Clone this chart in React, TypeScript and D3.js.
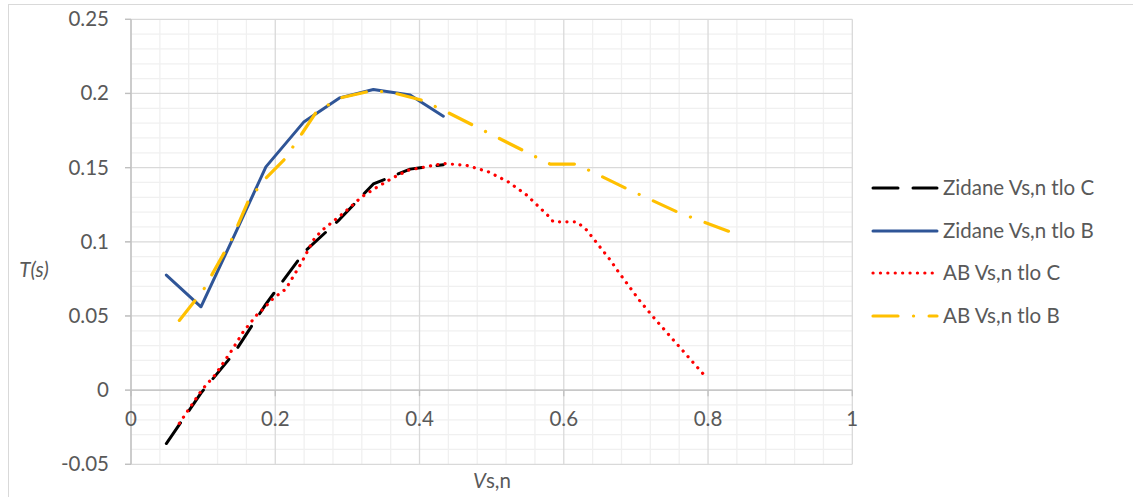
import React from 'react';
import * as d3 from 'd3';

// ---- Data ----
const zidaneC_x = [0.049, 0.097, 0.143, 0.187, 0.24, 0.289, 0.336, 0.387, 0.433];
const zidaneC_y = [-0.036, -0.002, 0.025, 0.058, 0.093, 0.115, 0.139, 0.149, 0.152];

const zidaneB_x = [0.049, 0.097, 0.143, 0.187, 0.24, 0.289, 0.336, 0.387, 0.433];
const zidaneB_y = [0.0776, 0.0562, 0.104, 0.1505, 0.181, 0.197, 0.2027, 0.1989, 0.1847];

const abC_x = [0.067, 0.098, 0.1165, 0.14, 0.1557, 0.1742, 0.183, 0.1973, 0.2145, 0.2366, 0.2527, 0.2636, 0.2967, 0.3198, 0.3383, 0.364, 0.3845, 0.433, 0.4654, 0.4954, 0.523, 0.5486, 0.5785, 0.5855, 0.618, 0.6318, 0.65, 0.664, 0.6756, 0.7057, 0.7265, 0.761, 0.7958];
const abC_y = [-0.0224, 0.0, 0.0102, 0.027, 0.0394, 0.0506, 0.0546, 0.0619, 0.0681, 0.0861, 0.1011, 0.1072, 0.1202, 0.1303, 0.136, 0.1434, 0.1483, 0.1528, 0.1515, 0.1472, 0.1404, 0.1315, 0.1175, 0.1135, 0.1135, 0.1079, 0.0966, 0.088, 0.0798, 0.06, 0.0479, 0.0288, 0.0095];

const abB_x = [0.067, 0.1, 0.14, 0.163, 0.187, 0.213, 0.237, 0.257, 0.29, 0.335, 0.364, 0.403, 0.44, 0.581, 0.617, 0.69, 0.76, 0.831];
const abB_y = [0.047, 0.0672, 0.102, 0.128, 0.143, 0.1557, 0.173, 0.1876, 0.197, 0.202, 0.2004, 0.1955, 0.187, 0.1524, 0.1524, 0.1352, 0.1195, 0.1067];

const seriesNames = ['Zidane Vs,n tlo C', 'Zidane Vs,n tlo B', 'AB Vs,n tlo C', 'AB Vs,n tlo B'];
const xTicks = [0, 0.2, 0.4, 0.6, 0.8, 1];
const yTicks = [-0.05, 0, 0.05, 0.1, 0.15, 0.2, 0.25];

const W = 1133;
const H = 497;
const FONT = 'Lato, "Open Sans", sans-serif';
const TXT = '#595959';
const FS = 20.5;

const styles = [
  { color: '#000000', dash: '25 15', width: 3 },
  { color: '#2F5597', dash: 'none', width: 3 },
  { color: '#FF0000', dash: '0.1 7.3', width: 3.2 },
  { color: '#FFC000', dash: '25 15.5 0.1 15.5', width: 3.2 },
];

export default function App() {
  const x = d3.scaleLinear().domain([0, 1]).range([131, 852.3]);
  const y = d3.scaleLinear().domain([-0.05, 0.25]).range([464.3, 19.3]);

  const series = [
    { xs: zidaneC_x, ys: zidaneC_y },
    { xs: zidaneB_x, ys: zidaneB_y },
    { xs: abC_x, ys: abC_y },
    { xs: abB_x, ys: abB_y },
  ];

  const line = d3
    .line<[number, number]>()
    .x((d) => x(d[0]))
    .y((d) => y(d[1]));

  const minorX = d3.range(0, 25).map((i) => i * 0.04).filter((v, i) => i % 5 !== 0);
  const minorY = d3.range(0, 31).map((i) => -0.05 + i * 0.01).filter((v, i) => i % 5 !== 0);

  const legendYs = [188, 231, 273, 316];

  return (
    <svg
      width={W}
      height={H}
      style={{ position: 'absolute', left: 0, top: 0, background: '#fff' }}
      fontFamily={FONT}
    >
      <rect x={8.5} y={4.5} width={1300} height={700} fill="#fff" stroke="#D9D9D9" strokeWidth={1} />
      {/* minor grid */}
      {minorX.map((v, i) => (
        <line key={'mx' + i} x1={x(v)} x2={x(v)} y1={y(0.25)} y2={y(-0.05)} stroke="#F0F0F0" strokeWidth={1.3} />
      ))}
      {minorY.map((v, i) => (
        <line key={'my' + i} x1={x(0)} x2={x(1)} y1={y(v)} y2={y(v)} stroke="#F0F0F0" strokeWidth={1.3} />
      ))}
      {/* major grid */}
      {xTicks.map((v, i) => (
        <line key={'Mx' + i} x1={x(v)} x2={x(v)} y1={y(0.25)} y2={y(-0.05)} stroke="#D9D9D9" strokeWidth={1.3} />
      ))}
      {yTicks.map((v, i) => (
        <line key={'My' + i} x1={x(0) - 6} x2={x(1)} y1={y(v)} y2={y(v)} stroke="#D9D9D9" strokeWidth={1.3} />
      ))}
      {/* axes */}
      <line x1={x(0)} x2={x(0)} y1={y(0.25)} y2={y(-0.05)} stroke="#BFBFBF" strokeWidth={1.3} />
      <line x1={x(0)} x2={x(1)} y1={y(0)} y2={y(0)} stroke="#BFBFBF" strokeWidth={1.3} />
      {xTicks.map((v, i) => (
        <line key={'xt' + i} x1={x(v)} x2={x(v)} y1={y(0)} y2={y(0) + 6} stroke="#BFBFBF" strokeWidth={1.3} />
      ))}
      {yTicks.map((v, i) => (
        <line key={'yt' + i} x1={x(0) - 6} x2={x(0)} y1={y(v)} y2={y(v)} stroke="#BFBFBF" strokeWidth={1.3} />
      ))}
      {/* tick labels */}
      {xTicks.map((v, i) => (
        <text key={'xl' + i} x={x(v)} y={y(0) + 36} textAnchor="middle" fontSize={FS} fill={TXT}>
          {String(v)}
        </text>
      ))}
      {yTicks.map((v, i) => (
        <text key={'yl' + i} x={109} y={y(v) + 7} textAnchor="end" fontSize={FS} fill={TXT}>
          {String(v)}
        </text>
      ))}
      {/* axis titles */}
      <text x={492} y={488} textAnchor="middle" fontSize={FS} fill={TXT}>
        <tspan fontStyle="italic">V</tspan>
        <tspan>s,n</tspan>
      </text>
      <text x={34} y={277} textAnchor="middle" fontSize={FS} fill={TXT} fontStyle="italic">
        T(s)
      </text>
      {/* series */}
      {series.map((s, i) => (
        <path
          key={'s' + i}
          d={line(s.xs.map((v, j) => [v, s.ys[j]] as [number, number])) || ''}
          fill="none"
          stroke={styles[i].color}
          strokeWidth={styles[i].width}
          strokeDasharray={styles[i].dash}
          strokeLinecap="round"
          strokeLinejoin="round"
        />
      ))}
      {/* legend */}
      {seriesNames.map((name, i) => (
        <g key={'lg' + i}>
          <line
            x1={873}
            x2={937}
            y1={legendYs[i]}
            y2={legendYs[i]}
            stroke={styles[i].color}
            strokeWidth={styles[i].width}
            strokeDasharray={styles[i].dash}
            strokeLinecap="round"
          />
          <text x={943} y={legendYs[i] + 7} fontSize={FS} fill={TXT}>
            {name}
          </text>
        </g>
      ))}
    </svg>
  );
}
